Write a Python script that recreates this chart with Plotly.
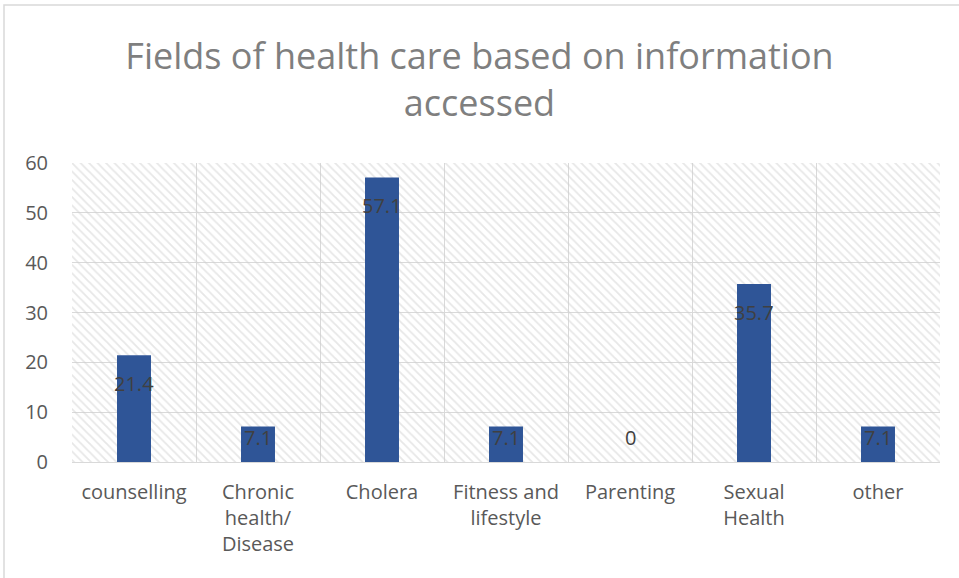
import plotly.graph_objects as go

categories = ["counselling", "Chronic<br>health/<br>Disease", "Cholera", "Fitness and<br>lifestyle",
              "Parenting", "Sexual<br>Health", "other"]
values = [21.4, 7.1, 57.1, 7.1, 0, 35.7, 7.1]
y_ticks = [0, 10, 20, 30, 40, 50, 60]
y_max = 60

grid = "#D9D9D9"
font = "Open Sans"

fig = go.Figure()
# hatched plot-area background
fig.add_trace(go.Bar(
    x=categories, y=[y_max] * len(categories), width=1,
    marker=dict(color="rgba(0,0,0,0)", line=dict(width=0),
                pattern=dict(shape="\\", fgcolor="#CFCFCF", size=6, solidity=0.3)),
    hoverinfo="skip", showlegend=False))
fig.add_trace(go.Bar(
    x=categories, y=values, width=0.274,
    marker=dict(color="#2F5597", line=dict(width=0)),
    showlegend=False))

for c, v in zip(categories, values):
    fig.add_annotation(x=c, y=max(v, 10.6), text=f"{v:g}", showarrow=False,
                       yshift=-28, font=dict(family=font, size=20, color="#404040"))

fig.update_layout(
    width=959, height=578,
    margin=dict(l=72, r=19, t=163, b=116),
    paper_bgcolor="white", plot_bgcolor="white",
    barmode="overlay",
    title=dict(text="Fields of health care based on information<br>accessed",
               x=0.5, xanchor="center", y=0.88, yanchor="middle",
               font=dict(family=font, size=36, color="#7F7F7F")),
    xaxis=dict(tickson="boundaries", showgrid=True, gridcolor=grid, gridwidth=1,
               showline=True, linecolor=grid, linewidth=1, ticks="",
               tickfont=dict(family=font, size=20, color="#595959"),
               ticklabelstandoff=12),
    yaxis=dict(range=[0, y_max], tickvals=y_ticks, showgrid=True, gridcolor=grid,
               gridwidth=1, zeroline=False, ticks="",
               tickfont=dict(family=font, size=20, color="#595959"),
               ticklabelstandoff=23),
    shapes=[dict(type="rect", xref="paper", yref="paper",
                 x0=-72/868 + 4/868, x1=1.1, y0=-0.5, y1=1 + (163 - 5) / 299,
                 line=dict(color="#D9D9D9", width=1.5), fillcolor="rgba(0,0,0,0)")],
)
fig.write_html("out.html")
